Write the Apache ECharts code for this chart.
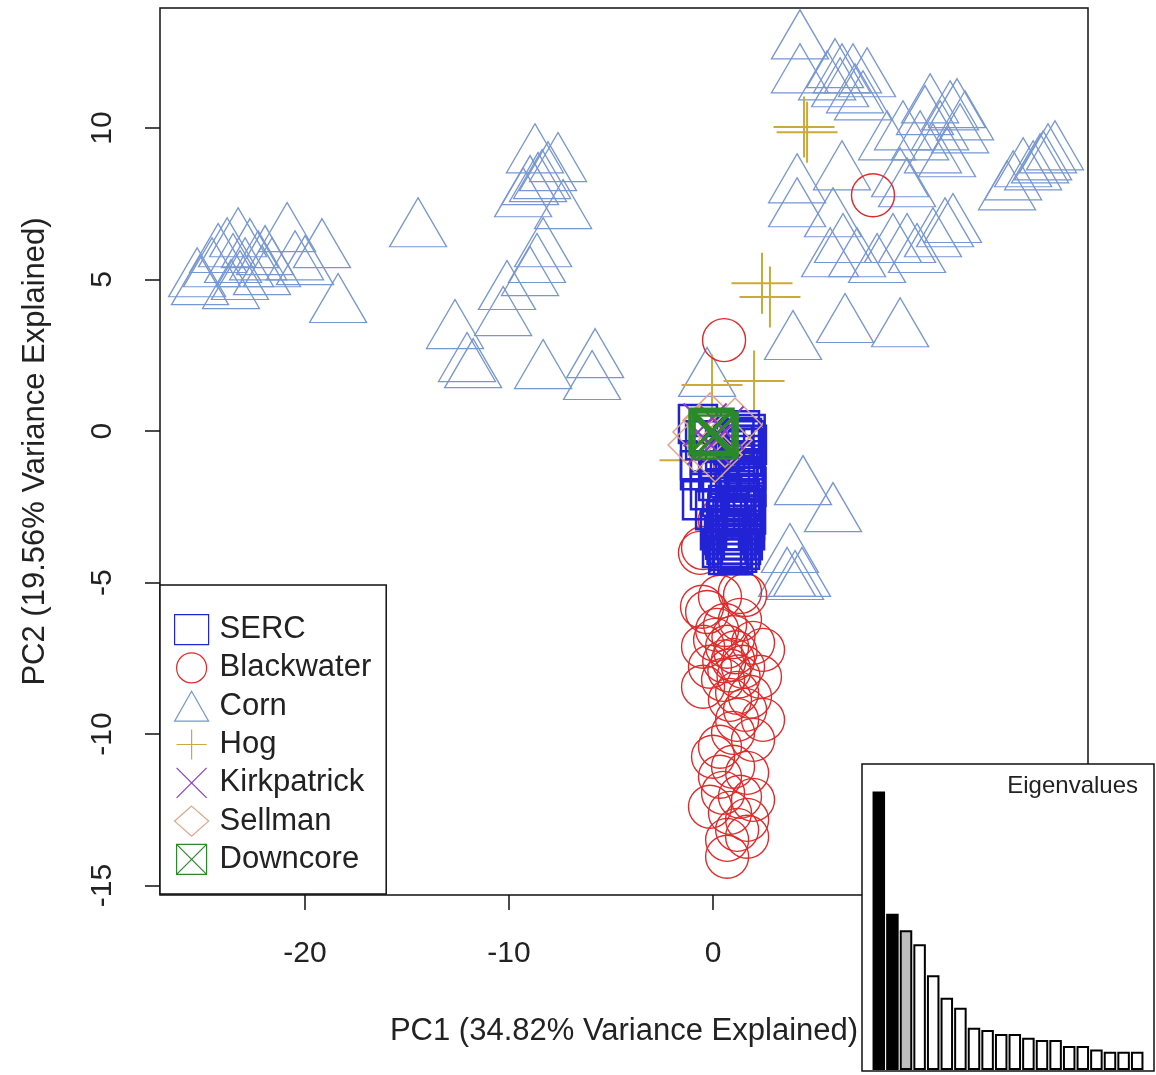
<!DOCTYPE html>
<html>
<head>
<meta charset="utf-8">
<script src="https://cdn.jsdelivr.net/npm/echarts@6/dist/echarts.min.js"></script>
<style>
  html, body { margin: 0; padding: 0; background: #fff; }
  #chart { width: 1156px; height: 1075px; }
</style>
</head>
<body>
<div id="chart"></div>
<script>
// PCA scores (PC1, PC2) by sample source
const serc = [
  [-0.74,0.23],[-0.39,-0.30],[-0.64,-0.96],[-0.15,-1.95],[-0.54,-2.28],[1.32,0.03],[1.57,-0.30],
  [1.42,-0.79],[1.23,-1.29],[1.57,-1.62],[1.08,-1.95],[1.32,-2.28],[0.74,-2.44],[1.08,-2.77],
  [0.83,-3.10],[1.23,-3.43],[0.59,-3.59],[0.93,-3.86],[0.74,-4.09],[1.32,-3.92],[0.34,-1.29],
  [0.59,-0.63],[0.98,-0.46],[0.10,-2.61],[1.57,-2.94],[1.57,-0.96],[-0.15,-0.79],[0.34,-3.27],
  [1.08,-1.02],[-0.64,-1.29],[0.44,-3.86],[1.37,-3.76],[0.54,-3.43],[1.57,-3.27],[0.64,-2.94],
  [1.42,-2.61],[1.57,-2.11],[1.62,-1.29],[1.52,-0.56],[1.42,-0.23],[0.44,-2.18],[0.25,-1.65],[0.83,-1.55],
  [1.60,-0.10],[1.66,-0.45],[1.50,-1.10],[1.64,-1.85],[1.47,-2.45],[1.62,-2.75],[1.40,-3.10],
  [1.10,-3.60],[0.90,-3.30],[0.66,-3.75],[1.18,-4.02],[0.98,-4.10],[0.80,-3.95],[1.46,-3.60],
  [1.25,-1.70],[1.35,-0.55],[1.15,-2.50],[0.95,-2.85],[0.70,-2.70],[1.05,-0.20]
];
const blackwater = [
  [7.84,7.78],[0.54,3.00],[-0.49,-3.86],[0.34,-2.94],[1.08,-1.29],
  [-0.64,-4.02],[1.32,-5.31],[0.34,-5.47],[-0.54,-5.80],[1.57,-5.41],[0.20,-6.56],[1.32,-6.23],
  [1.96,-6.99],[-0.49,-7.12],[0.69,-7.12],[2.45,-7.22],[0.98,-7.55],[1.47,-7.78],[-0.15,-7.78],
  [0.49,-8.21],[2.30,-8.11],[-0.49,-8.44],[1.18,-8.64],[1.81,-8.77],[2.45,-9.53],[1.18,-9.53],
  [0.98,-9.96],[0.34,-10.42],[1.96,-10.19],[0.00,-10.75],[0.98,-11.08],[1.67,-11.28],[0.34,-11.41],
  [0.49,-11.94],[1.32,-12.07],[1.96,-12.17],[-0.15,-12.40],[0.83,-12.60],[1.67,-12.83],[1.18,-13.16],
  [0.69,-13.49],[0.69,-14.05],[1.67,-13.39],[-0.29,-5.97],[0.59,-6.40],[0.10,-6.89],[0.83,-8.87],[1.57,-9.20],
  [1.10,-7.30],[0.80,-7.90],[1.25,-8.10],[0.55,-7.60],[1.00,-6.80]
];
const corn = [
  [-25.29,5.24],[-24.56,5.57],[-24.26,6.04],[-23.82,6.23],[-23.53,5.71],[-23.28,6.56],[-22.94,5.57],
  [-22.70,6.20],[-22.30,5.80],[-21.96,5.97],[-21.62,5.57],[-20.88,6.73],[-20.49,5.80],[-20.00,5.64],
  [-19.17,6.20],[-18.38,4.39],[-23.63,4.85],[-22.11,5.31],[-25.15,4.98],[-23.19,5.15],
  [-14.46,6.89],[-8.73,9.33],[-7.60,9.04],[-8.38,8.48],[-8.58,8.38],[-9.31,7.88],[-7.35,7.49],
  [-8.09,8.74],[-8.97,8.28],[-8.33,6.23],[-8.63,5.71],[-8.97,5.28],[-10.10,4.82],[-10.29,3.96],
  [-12.65,3.53],[-12.06,2.44],[-11.76,2.24],[-8.33,2.21],[-5.78,2.57],[-5.93,1.85],
  [-0.29,1.95],[0.93,-1.78],
  [4.26,13.09],[4.26,11.97],[5.98,12.14],[6.32,11.97],[6.86,11.97],[7.55,11.84],[5.59,11.74],
  [6.23,11.51],[6.96,11.31],[7.35,11.08],[10.64,10.98],[11.62,10.75],[11.96,10.82],[9.31,10.09],
  [11.13,10.09],[10.15,9.76],[12.11,9.99],[10.78,9.33],[11.47,9.20],[8.53,9.76],[6.32,8.77],
  [9.17,8.54],[9.51,8.21],[16.76,9.43],[16.18,9.10],[15.69,8.77],[15.20,8.87],[14.71,8.44],
  [14.41,8.11],[16.42,9.33],[16.03,9.00],[12.35,10.42],[10.39,10.59],[4.12,8.34],[4.12,7.55],
  [5.88,7.22],[8.82,6.37],[9.51,6.37],[10.78,6.56],[11.37,6.89],[11.76,7.03],[10.00,6.04],
  [6.37,6.37],[7.06,5.90],[8.04,5.71],[5.74,5.90],[6.47,3.73],[9.17,3.59],[3.92,3.17],
  [4.41,-1.62],[5.88,-2.51],[3.77,-3.86],[3.63,-4.65],[4.02,-4.75],[4.36,-4.65]
];
const hog = [
  [4.46,10.03],[4.61,9.86],[2.40,4.88],[2.79,4.42],[2.01,1.65],[-0.05,1.52],[-1.13,-0.96]
];
const kirkpatrick = [[-0.05,0.03],[-0.39,0.20],[0.25,-0.23],[0.44,0.10],[-0.20,-0.40]];
const sellman = [[-0.64,-0.03],[-0.15,0.36],[0.59,-0.30],[-0.88,-0.46],[0.10,-0.79],[1.08,0.20]];
const downcore = [[-0.05,0.03],[0.15,-0.10],[0.05,-0.20],[-0.10,-0.05]];

// Scree inset
const eigenNames = ['PC1','PC2','PC3','PC4','PC5','PC6','PC7','PC8','PC9','PC10',
  'PC11','PC12','PC13','PC14','PC15','PC16','PC17','PC18','PC19','PC20'];
const eigenValues = [8.37,4.70,4.20,3.78,2.85,2.17,1.87,1.27,1.20,1.08,
  1.08,0.97,0.90,0.90,0.72,0.72,0.62,0.55,0.55,0.55];
const eigenFill = ['#000','#000','#bebebe'];

const xTicks = [-20, -10, 0];
const yTicks = [-15, -10, -5, 0, 5, 10];

const FONT = '"Liberation Sans", Arial, sans-serif';
const PLUS = 'path://M0,10L20,10M10,0L10,20';
const CROSS = 'path://M0,0L20,20M20,0L0,20';
const BOXX = 'path://M0,0L20,0L20,20L0,20ZM0,0L20,20M20,0L0,20';

function pts(name, data, symbol, size, stroke, width) {
  return {
    name, type: 'scatter', data, symbol, symbolSize: size,
    xAxisIndex: 0, yAxisIndex: 0,
    itemStyle: { color: 'rgba(0,0,0,0)', borderColor: stroke, borderWidth: width, opacity: 1 },
    emphasis: { disabled: true },
    z: 2
  };
}

const chart = echarts.init(document.getElementById('chart'), null, { renderer: 'canvas' });
chart.setOption({
  animation: false,
  backgroundColor: '#fff',
  textStyle: { fontFamily: FONT },
  title: {
    text: 'Eigenvalues', right: 13, top: 769, z: 70,
    textStyle: { fontFamily: FONT, fontSize: 24, fontWeight: 'normal', color: '#222' }
  },
  grid: [
    { left: 160, top: 8, width: 928, height: 887, show: true, borderColor: '#111', borderWidth: 1.5, backgroundColor: 'rgba(0,0,0,0)' },
    { left: 872, top: 764, width: 272, height: 306 }
  ],
  xAxis: [
    {
      type: 'value', gridIndex: 0, min: -27.11, max: 18.38,
      splitLine: { show: false }, axisLine: { show: false, onZero: false },
      axisTick: { show: true, inside: false, length: 15, customValues: xTicks, lineStyle: { color: '#111', width: 1.5 } },
      axisLabel: { customValues: xTicks, fontSize: 30, margin: 44, color: '#222', fontFamily: FONT },
      name: 'PC1 (34.82% Variance Explained)', nameLocation: 'middle', nameGap: 121,
      nameTextStyle: { fontSize: 31, color: '#222', fontFamily: FONT }
    },
    { type: 'category', gridIndex: 1, data: eigenNames, show: false }
  ],
  yAxis: [
    {
      type: 'value', gridIndex: 0, min: -15.31, max: 13.96,
      splitLine: { show: false }, axisLine: { show: false, onZero: false },
      axisTick: { show: true, inside: false, length: 15, customValues: yTicks, lineStyle: { color: '#111', width: 1.5 } },
      axisLabel: { customValues: yTicks, fontSize: 30, margin: 42, rotate: 90, color: '#222', fontFamily: FONT },
      name: 'PC2 (19.56% Variance Explained)', nameLocation: 'middle', nameGap: 109,
      nameTextStyle: { fontSize: 31, color: '#222', fontFamily: FONT }
    },
    { type: 'value', gridIndex: 1, min: 0, max: 9.2, show: false }
  ],
  legend: {
    left: 160, top: 585, orient: 'vertical',
    data: ['SERC', 'Blackwater', 'Corn', 'Hog', 'Kirkpatrick', 'Sellman', 'Downcore'],
    itemWidth: 34, itemHeight: 30, itemGap: 7.1,
    padding: [29, 15, 19, 14],
    backgroundColor: '#fff', borderColor: '#111', borderWidth: 1.5, borderRadius: 0,
    selectedMode: false,
    itemStyle: { borderWidth: 1.2 },
    textStyle: { fontSize: 31, color: '#222', fontFamily: FONT, lineHeight: 30, padding: [0, 0, 0, 6] },
    z: 20
  },
  graphic: [
    {
      type: 'rect', z: 50, silent: true,
      shape: { x: 862, y: 764, width: 292, height: 307 },
      style: { fill: '#fff', stroke: '#111', lineWidth: 1.5 }
    }
  ],
  series: [
    pts('Corn', corn, 'triangle', [57, 49], '#7797d2', 1.3),
    pts('Hog', hog, PLUS, 61, '#ccaa3a', 2),
    pts('Blackwater', blackwater, 'circle', 43, '#e02a2a', 1.4),
    pts('SERC', serc, 'rect', 38, '#2323d6', 2.5),
    pts('Sellman', sellman, 'diamond', 54, '#e0a384', 1.5),
    pts('Kirkpatrick', kirkpatrick, CROSS, 43, '#8a3cc4', 2),
    pts('Downcore', downcore, BOXX, 43, '#2a8a2a', 2.5),
    {
      type: 'bar', xAxisIndex: 1, yAxisIndex: 1, z: 60,
      barCategoryGap: '8%',
      data: eigenValues.map((v, i) => ({ value: v, itemStyle: { color: eigenFill[i] || '#fff' } })),
      itemStyle: { borderColor: '#000', borderWidth: 2 },
      emphasis: { disabled: true }
    }
  ]
});
</script>
</body>
</html>
